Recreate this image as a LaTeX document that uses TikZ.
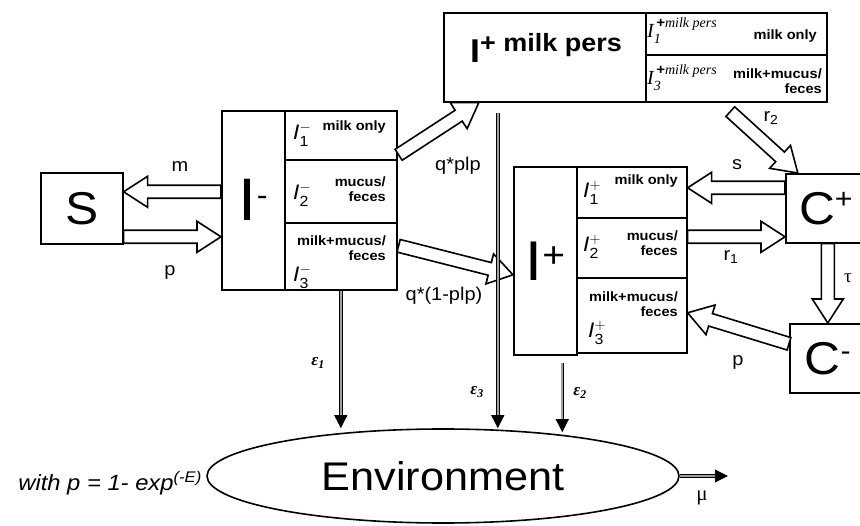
\documentclass[tikz,border=0pt]{standalone}
\usepackage{amsmath}
\usepackage{fontspec}
\setmainfont{Liberation Sans}[FakeStretch=1.08]
\newfontfamily\timesfont{Liberation Serif}
\usetikzlibrary{arrows.meta,positioning,shapes.geometric,calc}
\definecolor{shedGray}{HTML}{A0A0A0}

\tikzset{
    % compartments and their sub-cells
    box/.style={rectangle,draw=black,line width=1.6pt,fill=white,inner sep=0pt,anchor=north west},
    cellnote/.style={font=\fontsize{13.5}{15.5}\selectfont\bfseries,align=right,inner sep=0pt},
    cellsym/.style={font=\fontsize{21}{21}\selectfont,inner sep=0pt,anchor=base west},
    perssym/.style={font=\fontsize{20}{20}\selectfont,inner sep=0pt,anchor=base west},
    % transition labels
    rate/.style={font=\fontsize{18.5}{18.5}\selectfont,inner sep=0pt},
    shedrate/.style={font=\timesfont\fontsize{17}{17}\selectfont\bfseries\itshape,inner sep=0pt},
    % flows
    blockarrow/.style={draw=black,line width=1.6pt,fill=white,line join=miter},
    shed/.style={-{Triangle[length=13pt,width=13pt]},line width=0.9pt,double=shedGray,double distance=1.8pt}
}

% hollow block arrow from #1 to #2
\newcommand{\blockflow}[2]{%
  \coordinate (bf_head) at ($(#2)!24pt!(#1)$);
  \draw[blockarrow] ($(#1)!6.5pt!90:(#2)$) -- ($(bf_head)!6.5pt!90:(#2)$) -- ($(bf_head)!15.5pt!90:(#2)$) -- (#2)
    -- ($(bf_head)!15.5pt!-90:(#2)$) -- ($(bf_head)!6.5pt!-90:(#2)$) -- ($(#1)!6.5pt!-90:(#2)$) -- cycle;}
\newcommand{\cellI}[2]{\textit{I}$_{\text{#1}}^{#2}$}
\newcommand{\persI}[1]{{\timesfont\itshape I}$_{\text{\timesfont\itshape #1}}^{\,\text{\bfseries +}\text{\timesfont\itshape milk pers}}$}

\begin{document}
\begin{tikzpicture}[x=1pt,y=-1pt]
\useasboundingbox (0,0) rectangle (860,526);

% Susceptible and I- compartment
\node[box,minimum width=82pt,minimum height=71pt,font=\fontsize{46}{46}\selectfont] at (40,172) (s_box) {S};
\node[box,minimum width=63pt,minimum height=179pt,font=\fontsize{60}{60}\selectfont] at (221,110) (im_main) {I\raisebox{15pt}{\fontsize{30}{30}\selectfont -}};
\node[box,minimum width=112pt,minimum height=49pt] at (284,110) (im_1) {};
\node[box,minimum width=112pt,minimum height=63pt] at (284,159) (im_2) {};
\node[box,minimum width=112pt,minimum height=67pt] at (284,222) (im_3) {};

\node[cellsym] at (293,140) (im_1_sym) {\cellI{1}{-}};
\node[cellsym] at (293,200) (im_2_sym) {\cellI{2}{-}};
\node[cellsym] at (293,282) (im_3_sym) {\cellI{3}{-}};
\node[cellnote,anchor=base east] at (386,131) (im_1_note) {milk only};
\node[cellnote,anchor=east] at (386,189) (im_2_note) {mucus/\\feces};
\node[cellnote,anchor=east] at (386,248) (im_3_note) {milk+mucus/\\feces};

% I+ compartment
\node[box,minimum width=63pt,minimum height=188pt,font=\fontsize{56}{56}\selectfont] at (513,166) (ip_main) {I\raisebox{13pt}{\fontsize{36}{36}\selectfont +}};
\node[box,minimum width=110pt,minimum height=51pt] at (576,166) (ip_1) {};
\node[box,minimum width=110pt,minimum height=60pt] at (576,217) (ip_2) {};
\node[box,minimum width=110pt,minimum height=75pt] at (576,277) (ip_3) {};

\node[cellsym] at (583,198) (ip_1_sym) {\cellI{1}{+}};
\node[cellsym] at (583,252) (ip_2_sym) {\cellI{2}{+}};
\node[cellsym] at (588,338) (ip_3_sym) {\cellI{3}{+}};
\node[cellnote,anchor=base east] at (678,185) (ip_1_note) {milk only};
\node[cellnote,anchor=east] at (678,243) (ip_2_note) {mucus/\\feces};
\node[cellnote,anchor=east] at (678,304) (ip_3_note) {milk+mucus/\\feces};

% I+ milk persistent compartment
\node[box,minimum width=202pt,minimum height=89pt] at (443,12) (mp_main) {};
\node[box,minimum width=181pt,minimum height=42pt] at (645,12) (mp_1) {};
\node[box,minimum width=181pt,minimum height=47pt] at (645,54) (mp_3) {};

\node[anchor=base,inner sep=0pt,font=\bfseries] at (546,63) (mp_title) {{\fontsize{33}{33}\selectfont I}\raisebox{11pt}{\fontsize{25}{25}\selectfont + milk pers}};
\node[perssym] at (647,38) (mp_1_sym) {\persI{1}};
\node[perssym] at (647,85) (mp_3_sym) {\persI{3}};
\node[cellnote,anchor=base east] at (817,40) (mp_1_note) {milk only};
\node[cellnote,anchor=east] at (822,81) (mp_3_note) {milk+mucus/\\feces};

% Carrier compartments (cut by the right margin)
\node[box,minimum width=80pt,minimum height=69pt,font=\fontsize{46}{46}\selectfont] at (785,173) (cp_box) {C\raisebox{16pt}{\fontsize{28}{28}\selectfont +}};
\node[box,minimum width=76pt,minimum height=69pt,font=\fontsize{46}{46}\selectfont] at (789,323) (cm_box) {C\raisebox{14pt}{\fontsize{28}{28}\selectfont -}};

% Environment
\node[ellipse,draw=black,line width=1.6pt,minimum width=472pt,minimum height=94pt,inner sep=0pt,font=\fontsize{40}{40}\selectfont] at (443,476) (env) {Environment};
\node[anchor=east,inner sep=0pt,font=\fontsize{22}{22}\selectfont\itshape] at (202,483) (p_def) {with p = 1- exp\textsuperscript{(-E)}};

% Block arrows between compartments
\coordinate (m_from) at ([yshift=8.5pt]im_main.west);
\coordinate (m_to) at (s_box.east |- m_from);
\coordinate (p_from) at ([yshift=-28.5pt]s_box.east);
\coordinate (p_to) at (im_main.west |- p_from);
\coordinate (qplp_from) at ([xshift=1pt,yshift=-19.5pt]im_1.east);
\coordinate (qplp_to) at ([xshift=-66pt]mp_main.south);
\coordinate (qnot_from) at ([xshift=1pt,yshift=10.5pt]im_3.east);
\coordinate (qnot_to) at ([yshift=-14pt]ip_main.west);
\coordinate (s_from) at ([yshift=20.5pt]cp_box.west);
\coordinate (s_to) at (ip_1.east |- s_from);
\coordinate (r1_from) at ([yshift=11pt]ip_2.east);
\coordinate (r1_to) at (cp_box.west |- r1_from);
\coordinate (tau_from) at ([xshift=2pt]cp_box.south);
\coordinate (tau_to) at (cm_box.north -| tau_from);
\coordinate (pc_from) at ([yshift=14.5pt]cm_box.west);
\coordinate (pc_to) at ([yshift=2.5pt]ip_3.east);
\coordinate (r2_from) at ([xshift=-6pt,yshift=-9pt]mp_3.south);
\coordinate (r2_to) at ([xshift=-28pt]cp_box.north);

\blockflow{m_from}{m_to}
\blockflow{p_from}{p_to}
\blockflow{qplp_from}{qplp_to}
\blockflow{qnot_from}{qnot_to}
\blockflow{s_from}{s_to}
\blockflow{r1_from}{r1_to}
\blockflow{tau_from}{tau_to}
\blockflow{pc_from}{pc_to}
\blockflow{r2_from}{r2_to}

\node[rate] at (180,167) (m_lbl) {m};
\node[rate] at (170,272) (p_lbl) {p};
\node[rate] at (458,166) (qplp_lbl) {q*plp};
\node[rate] at (444,296) (qnot_lbl) {q*(1-plp)};
\node[rate] at (737,165) (s_lbl) {s};
\node[rate] at (731,257) (r1_lbl) {r$_{\text{1}}$};
\node[rate,font=\timesfont\fontsize{19}{19}\selectfont] at (848,278) (tau_lbl) {τ};
\node[rate] at (738,362) (pc_lbl) {p};
\node[rate] at (771,118) (r2_lbl) {r$_{\text{2}}$};

% Shedding into the environment
\coordinate (e1_from) at (im_3.south);
\coordinate (e1_to) at (env.north -| e1_from);
\coordinate (e3_from) at ([xshift=-47pt,yshift=-10pt]mp_main.south);
\coordinate (e3_to) at (env.north -| e3_from);
\coordinate (e2_from) at ([xshift=17pt,yshift=-7pt]ip_main.south);
\coordinate (e2_to) at ([yshift=-4pt]env.north -| e2_from);
\coordinate (mu_to) at ([xshift=48pt]env.east);

\draw[shed] (e1_from) -- (e1_to);
\draw[shed] (e3_from) -- (e3_to);
\draw[shed] (e2_from) -- (e2_to);
\draw[shed] (env.east) -- (mu_to);

\node[shedrate] at (318,363) (e1_lbl) {ε$_{\text{1}}$};
\node[shedrate] at (477,392) (e3_lbl) {ε$_{\text{3}}$};
\node[shedrate] at (580,393) (e2_lbl) {ε$_{\text{2}}$};
\node[rate,font=\timesfont\fontsize{21}{21}\selectfont] at (702,498) (mu_lbl) {μ};

\end{tikzpicture}
\end{document}
